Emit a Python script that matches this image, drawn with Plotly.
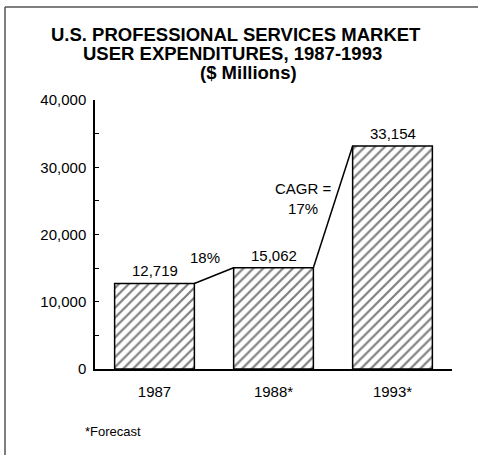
import plotly.graph_objects as go

# ---- data ----
categories = ["1987", "1988*", "1993*"]
values = [12719, 15062, 33154]
value_labels = ["12,719", "15,062", "33,154"]
growth_labels = ["18%", "CAGR =<br>17%"]
y_tick_vals = [0, 5000, 10000, 15000, 20000, 25000, 30000, 35000, 40000]
y_tick_text = ["0", "", "10,000", "", "20,000", "", "30,000", "", "40,000"]
title_lines = ["U.S. PROFESSIONAL SERVICES MARKET", "USER EXPENDITURES, 1987-1993", "($ Millions)"]
footnote = "*Forecast"

# ---- layout geometry ----
W, H = 479, 455
L, R, T, B = 95, 27, 100, 86
PW, PH = W - L - R, H - T - B
BAR_W = 0.67
FONT = "Liberation Sans, Arial, Helvetica, sans-serif"


def px(x):
    return (x - L) / PW


def py(y):
    return (H - B - y) / PH


xs = list(range(len(categories)))

fig = go.Figure()
fig.add_trace(go.Bar(
    x=xs, y=values, width=BAR_W,
    marker=dict(color="white", line=dict(color="black", width=1.5),
                pattern=dict(shape="/", fgcolor="black", bgcolor="white", size=7, solidity=0.32)),
    hoverinfo="skip", showlegend=False,
))

# connector lines from bar top-right to next bar top-left
for i in range(len(values) - 1):
    fig.add_trace(go.Scatter(
        x=[xs[i] + BAR_W / 2, xs[i + 1] - BAR_W / 2],
        y=[values[i], values[i + 1]],
        mode="lines", line=dict(color="black", width=1.5),
        hoverinfo="skip", showlegend=False,
    ))

annotations = []
for x, v, t in zip(xs, values, value_labels):
    annotations.append(dict(x=x, y=v, xref="x", yref="y", text=t, showarrow=False,
                            xanchor="center", yanchor="bottom", yshift=2,
                            font=dict(size=15, color="black", family=FONT)))

# growth labels
annotations.append(dict(x=px(205), y=py(257), xref="paper", yref="paper", text=growth_labels[0],
                        xanchor="center", yanchor="middle", showarrow=False,
                        font=dict(size=15, color="black", family=FONT)))
annotations.append(dict(x=px(303), y=py(198), xref="paper", yref="paper", text=growth_labels[1],
                        xanchor="center", yanchor="middle", showarrow=False, align="center",
                        font=dict(size=15, color="black", family=FONT)))

# title lines
for text, cx, cy in zip(title_lines, [235.5, 232.5, 248], [34, 53, 72]):
    annotations.append(dict(x=px(cx), y=py(cy), xref="paper", yref="paper", text="<b>" + text + "</b>",
                            xanchor="center", yanchor="middle", showarrow=False,
                            font=dict(size=18.5, color="black", family=FONT)))

annotations.append(dict(x=px(83), y=py(431), xref="paper", yref="paper", text=footnote,
                        xanchor="left", yanchor="middle", showarrow=False,
                        font=dict(size=13, color="black", family=FONT)))

shapes = [
    dict(type="line", xref="paper", yref="paper", x0=px(5), x1=px(5), y0=py(7), y1=py(460),
         line=dict(color="#555", width=1.5)),
    dict(type="line", xref="paper", yref="paper", x0=px(5), x1=px(478), y0=py(7), y1=py(7),
         line=dict(color="#555", width=1.5)),
]

fig.update_layout(
    width=W, height=H,
    margin=dict(l=L, r=R, t=T, b=B),
    paper_bgcolor="white", plot_bgcolor="white",
    font=dict(family=FONT, size=15, color="black"),
    annotations=annotations, shapes=shapes,
    xaxis=dict(range=[-0.5, 2.5], tickvals=xs, ticktext=categories, showgrid=False, zeroline=False,
               showline=True, linecolor="black", linewidth=1.5, ticks="", ticklabelstandoff=8,
               tickfont=dict(size=15, color="black")),
    yaxis=dict(range=[0, 40000], tickvals=y_tick_vals, ticktext=y_tick_text, showgrid=False,
               zeroline=False, showline=True, linecolor="black", linewidth=1.5,
               ticks="inside", ticklen=4, tickcolor="black", tickwidth=1.2,
               tickfont=dict(size=15, color="black"), ticklabelstandoff=4),
)

fig.write_html("out.html")
